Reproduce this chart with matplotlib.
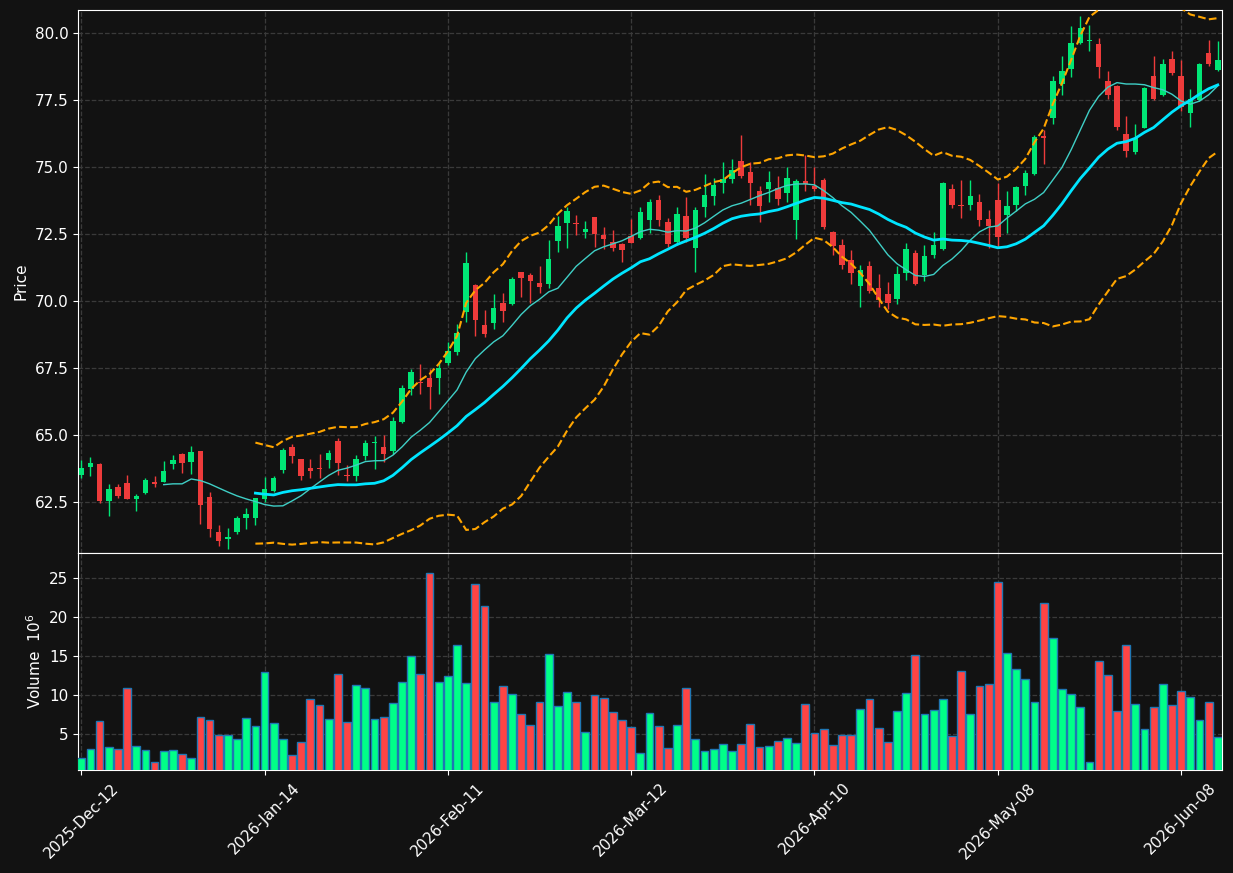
import numpy as np
import pandas as pd
import matplotlib
matplotlib.use("Agg")
import matplotlib.pyplot as plt

opens = [63.51, 63.81, 63.93, 62.54, 63.06, 63.21, 62.61, 62.85, 63.26, 63.26,
         63.93, 64.29, 64.00, 64.40, 62.69, 61.38, 61.11, 61.38, 61.90, 61.90,
         62.61, 62.91, 63.69, 64.56, 64.10, 63.77, 63.77, 64.07, 64.78, 63.52,
         63.48, 64.23, 64.69, 64.56, 64.40, 65.50, 66.70, 66.99, 67.14, 67.14,
         67.67, 68.11, 69.60, 70.60, 69.10, 69.19, 69.93, 69.90, 71.08, 70.97,
         70.67, 70.63, 72.25, 72.92, 72.90, 72.58, 73.13, 72.46, 72.20, 72.13,
         72.43, 72.35, 73.02, 73.77, 72.95, 72.20, 73.17, 71.98, 73.50, 73.92,
         74.40, 74.55, 75.22, 74.81, 74.10, 74.20, 74.22, 74.03, 73.02, 74.48,
         74.29, 74.51, 72.57, 72.09, 71.53, 70.57, 71.31, 70.50, 70.26, 70.09,
         71.06, 71.79, 70.97, 71.72, 71.95, 74.18, 73.57, 73.58, 73.69, 73.05,
         73.77, 73.20, 73.58, 74.30, 74.73, 76.16, 76.84, 78.10, 78.66, 79.64,
         79.70, 79.59, 78.21, 78.02, 76.23, 75.57, 76.47, 78.40, 77.69, 79.02,
         78.40, 77.03, 77.50, 79.24, 78.62]
highs = [64.07, 64.18, 63.95, 63.16, 63.16, 63.50, 62.80, 63.40, 63.49, 64.02,
         64.25, 64.33, 64.60, 64.40, 62.86, 61.63, 61.53, 61.98, 62.28, 62.65,
         63.42, 63.47, 64.50, 64.65, 64.12, 64.10, 64.30, 64.45, 64.90, 63.90,
         64.27, 64.83, 64.96, 65.00, 65.67, 66.87, 67.46, 67.65, 67.46, 67.70,
         68.48, 69.14, 71.84, 70.65, 69.66, 70.25, 70.30, 70.90, 71.10, 71.05,
         71.30, 72.28, 73.17, 73.50, 73.20, 73.00, 73.15, 72.75, 72.65, 72.15,
         73.05, 73.50, 73.80, 73.94, 73.10, 73.50, 73.88, 73.50, 74.76, 74.60,
         75.20, 75.30, 76.19, 75.20, 74.30, 74.85, 74.65, 75.00, 74.55, 75.45,
         75.00, 74.60, 72.60, 72.30, 71.90, 71.36, 71.50, 71.00, 70.70, 71.30,
         72.18, 71.90, 72.10, 72.58, 74.45, 74.35, 74.50, 74.50, 74.00, 73.40,
         74.40, 74.10, 74.30, 74.90, 76.20, 76.40, 78.38, 79.14, 80.27, 80.63,
         80.30, 79.80, 78.60, 78.05, 76.90, 76.60, 78.00, 79.14, 79.05, 79.35,
         79.00, 77.90, 78.90, 79.74, 79.70]
lows = [63.40, 63.47, 62.45, 61.99, 62.64, 62.60, 62.18, 62.80, 63.07, 63.24,
        63.72, 63.60, 63.55, 61.67, 61.18, 60.85, 60.76, 61.30, 61.50, 61.65,
        62.50, 62.87, 63.60, 63.94, 63.32, 63.40, 63.40, 63.78, 63.50, 63.30,
        63.30, 64.06, 63.75, 64.00, 64.30, 65.44, 66.51, 66.55, 65.97, 66.55,
        67.61, 68.00, 69.23, 68.70, 68.65, 68.95, 69.20, 69.85, 70.16, 69.94,
        70.30, 70.50, 71.84, 71.97, 72.45, 72.35, 72.03, 71.93, 71.88, 71.47,
        72.15, 72.30, 72.55, 72.80, 72.00, 72.10, 72.20, 71.09, 73.12, 73.60,
        74.05, 74.40, 74.60, 73.58, 72.95, 73.70, 73.60, 73.70, 72.31, 74.10,
        74.10, 72.70, 71.72, 71.20, 70.62, 69.76, 70.30, 69.79, 69.70, 69.90,
        70.77, 70.60, 70.75, 71.60, 71.90, 73.47, 73.10, 73.40, 72.80, 71.97,
        72.00, 72.55, 73.35, 73.95, 74.70, 75.10, 76.60, 77.70, 78.35, 79.60,
        79.32, 78.33, 77.55, 76.40, 75.36, 75.50, 76.45, 77.50, 77.65, 78.45,
        77.10, 76.50, 77.45, 78.78, 78.60]
closes = [63.77, 63.97, 62.54, 62.98, 62.72, 62.61, 62.74, 63.32, 63.18, 63.66,
          64.07, 63.97, 64.35, 62.40, 61.50, 61.06, 61.21, 61.90, 62.05, 62.65,
          62.98, 63.40, 64.44, 64.23, 63.48, 63.66, 63.73, 64.33, 63.94, 63.48,
          64.10, 64.71, 64.75, 64.28, 65.52, 66.76, 67.36, 66.93, 66.80, 67.49,
          68.15, 68.80, 71.43, 69.29, 68.77, 69.75, 69.64, 70.82, 70.87, 70.76,
          70.53, 71.57, 72.80, 73.36, 72.87, 72.68, 72.50, 72.31, 71.98, 71.90,
          72.18, 73.32, 73.69, 73.02, 72.13, 73.25, 72.35, 73.40, 73.95, 74.33,
          74.55, 74.89, 74.66, 74.40, 73.54, 74.44, 73.80, 74.59, 74.48, 74.37,
          74.18, 72.77, 72.05, 71.34, 71.06, 71.16, 70.38, 70.03, 69.94, 71.02,
          71.94, 70.63, 71.68, 72.09, 74.40, 73.58, 73.54, 73.92, 73.02, 72.80,
          72.40, 73.54, 74.27, 74.79, 76.12, 76.10, 78.21, 78.60, 79.63, 80.18,
          79.76, 78.72, 77.69, 76.50, 75.61, 76.09, 77.94, 77.54, 78.83, 78.50,
          77.23, 77.53, 78.84, 78.84, 78.99]
volumes = [1.92, 3.08, 6.67, 3.33, 3.08, 10.90, 3.46, 2.95, 1.41, 2.82,
           2.95, 2.44, 1.92, 7.18, 6.79, 4.87, 4.87, 4.36, 7.05, 6.03,
           12.95, 6.41, 4.36, 2.31, 3.97, 9.49, 8.72, 6.92, 12.69, 6.54,
           11.28, 10.90, 6.92, 7.18, 8.97, 11.67, 15.00, 12.69, 25.64, 11.67,
           12.44, 16.41, 11.54, 24.23, 21.41, 9.10, 11.15, 10.13, 7.56, 6.15,
           9.10, 15.26, 8.59, 10.38, 9.10, 5.26, 10.00, 9.62, 7.82, 6.79,
           5.90, 2.56, 7.69, 6.03, 3.20, 6.15, 10.90, 4.36, 2.82, 3.08,
           3.72, 2.82, 3.72, 6.28, 3.33, 3.46, 4.10, 4.49, 3.85, 8.85,
           5.13, 5.64, 3.59, 4.87, 4.87, 8.20, 9.49, 5.77, 3.97, 7.95,
           10.26, 15.13, 7.56, 8.08, 9.49, 4.74, 13.08, 7.56, 11.15, 11.41,
           24.49, 15.38, 13.33, 12.05, 9.10, 21.79, 17.31, 10.77, 10.13, 8.46,
           1.41, 14.36, 12.56, 7.95, 16.41, 8.85, 5.64, 8.46, 11.41, 8.72,
           10.51, 9.74, 6.79, 9.10, 4.62]
tick_idx = [0, 20, 40, 60, 80, 100, 120]
tick_labels = ['2025-Dec-12', '2026-Jan-14', '2026-Feb-11', '2026-Mar-12',
               '2026-Apr-10', '2026-May-08', '2026-Jun-08']

BG = '#121212'
UP_C, DN_C = '#00e676', '#ee3b3b'
VUP_C, VDN_C = '#00ff88', '#ff4444'

o = np.array(opens); h = np.array(highs); l = np.array(lows); c = np.array(closes)
v = np.array(volumes)
x = np.arange(len(c))
up = c >= o

s = pd.Series(c)
mav10 = s.rolling(10).mean()
mav20 = s.rolling(20).mean()
std20 = s.rolling(20).std(ddof=0)
bb_up = mav20 + 2 * std20
bb_dn = mav20 - 2 * std20

fig = plt.figure(figsize=(12.33, 8.73), dpi=100, facecolor=BG)
ax = fig.add_axes([0.0633, 0.3666, 0.9277, 0.6219], facecolor=BG)
axv = fig.add_axes([0.0633, 0.118, 0.9277, 0.2486], facecolor=BG, sharex=ax)

for a in (ax, axv):
    a.grid(True, color='#3a3a3a', linestyle='--', linewidth=0.9)
    a.set_axisbelow(True)
    for sp in a.spines.values():
        sp.set_color('white')
    a.tick_params(colors='white', labelsize=11)

cols = np.where(up, UP_C, DN_C)
ax.vlines(x, l, h, colors=cols, linewidth=1.0, zorder=3)
ax.bar(x, np.maximum(np.abs(c - o), 0.03), bottom=np.minimum(o, c), width=0.6,
       color=cols, linewidth=0, zorder=4)
ax.plot(x, mav10, color='#3fcfc6', linewidth=1.0, zorder=5)
ax.plot(x, mav20, color='#00e5ff', linewidth=2.0, zorder=5)
ax.plot(x, bb_up, color='#ffa500', linestyle='--', linewidth=1.5, zorder=5)
ax.plot(x, bb_dn, color='#ffa500', linestyle='--', linewidth=1.5, zorder=5)

ax.set_ylim(60.6, 80.86)
ax.set_xlim(-0.35, 124.45)
ax.set_yticks([62.5, 65.0, 67.5, 70.0, 72.5, 75.0, 77.5, 80.0])
ax.set_ylabel('Price', color='white', fontsize=11)
ax.tick_params(axis='x', labelbottom=False, length=0)

vcols = np.where(up, VUP_C, VDN_C)
axv.bar(x, v, width=0.85, color=vcols, edgecolor='#1f77b4', linewidth=1.0, zorder=3)
axv.set_ylim(0.42, 28.24)
axv.set_yticks([5, 10, 15, 20, 25])
axv.set_ylabel('Volume  $10^{6}$', color='white', fontsize=11)
axv.set_xticks(tick_idx)
axv.set_xticklabels(tick_labels, rotation=45, ha='center')
axv.tick_params(axis='x', labelsize=11, pad=4)

fig.savefig('out.png', dpi=100, facecolor=BG)
